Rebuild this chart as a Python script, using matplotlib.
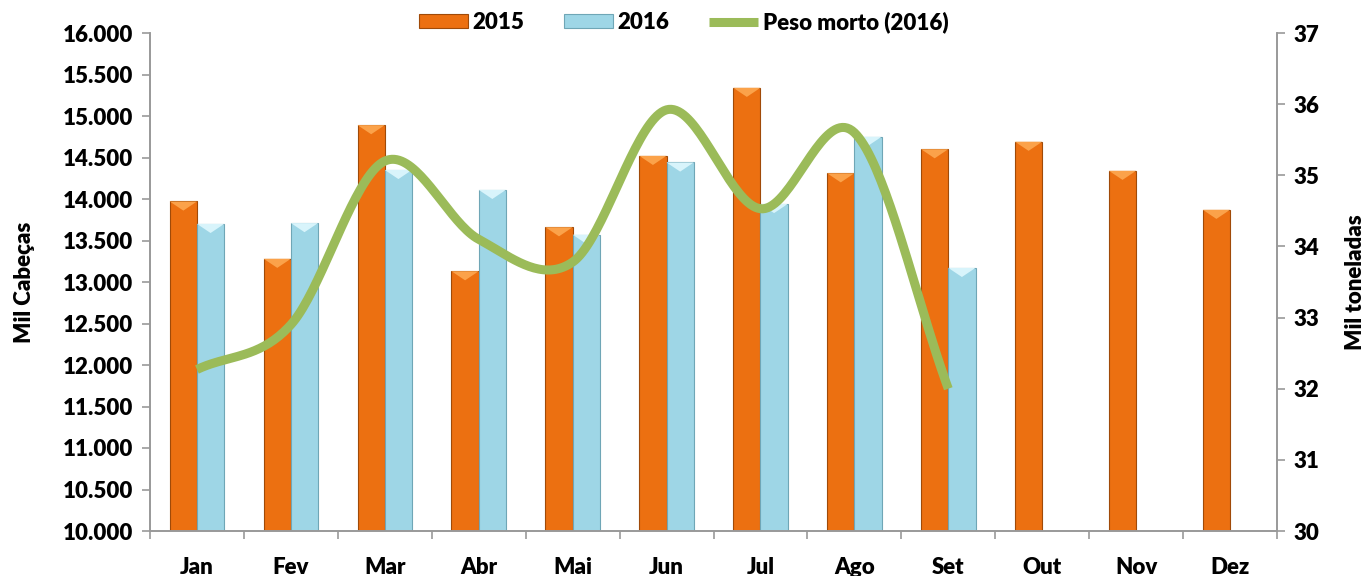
import matplotlib
matplotlib.use('Agg')
import matplotlib.pyplot as plt
import numpy as np

plt.rcParams['font.family'] = ['Lato', 'DejaVu Sans']
plt.rcParams['font.weight'] = 'heavy'

meses = ['Jan', 'Fev', 'Mar', 'Abr', 'Mai', 'Jun', 'Jul', 'Ago', 'Set', 'Out', 'Nov', 'Dez']
abate_2015 = [13970, 13280, 14890, 13130, 13660, 14520, 15340, 14310, 14600, 14690, 14340, 13870]
abate_2016 = [13700, 13710, 14350, 14110, 13570, 14440, 13940, 14750, 13170]
peso_2016 = [32.27, 32.9, 35.2, 34.1, 33.78, 35.92, 34.53, 35.6, 32.0]


def smooth(x, y, n=40):
    # cardinal spline, like excel's "smoothed line"
    x = np.asarray(x, float)
    y = np.asarray(y, float)
    px = np.concatenate([[2*x[0]-x[1]], x, [2*x[-1]-x[-2]]])
    py = np.concatenate([[2*y[0]-y[1]], y, [2*y[-1]-y[-2]]])
    xs, ys = [], []
    t = np.linspace(0, 1, n)
    for i in range(1, len(px)-2):
        p0, p1, p2, p3 = [np.array([px[j], py[j]]) for j in range(i-1, i+3)]
        c1 = p1 + (p2 - p0) / 6
        c2 = p2 - (p3 - p1) / 6
        b = (np.outer((1-t)**3, p1) + np.outer(3*(1-t)**2*t, c1)
             + np.outer(3*(1-t)*t**2, c2) + np.outer(t**3, p2))
        xs.extend(b[:, 0])
        ys.extend(b[:, 1])
    return xs, ys


fig = plt.figure(figsize=(13.67, 5.76), dpi=100)
ax = fig.add_axes([150/1367, 45/576, 1127/1367, 498/576])
ax2 = ax.twinx()

x = np.arange(len(meses))
w = 0.29
laranja = '#EC7011'
azul = '#9ED6E6'
b1 = ax.bar(x[:len(abate_2015)] - w/2, np.array(abate_2015) - 10000, w, bottom=10000,
            color=laranja, edgecolor='#A04A08', linewidth=0.8, label='2015', zorder=2)
b2 = ax.bar(x[:len(abate_2016)] + w/2, np.array(abate_2016) - 10000, w, bottom=10000,
            color=azul, edgecolor='#6FA6B6', linewidth=0.8, label='2016', zorder=2)

# bevel-like tops
for bars, c in [(b1, '#FBA24A'), (b2, '#D8F4FB')]:
    for r in bars:
        x0 = r.get_x()
        top = r.get_y() + r.get_height()
        ax.fill([x0, x0 + w, x0 + w/2], [top, top, top - 110], color=c, zorder=3, lw=0)

sx, sy = smooth(x[:len(peso_2016)], peso_2016)
ax2.plot(sx, sy, color='#9BBB59', lw=6.5, solid_capstyle='butt', label='Peso morto (2016)', zorder=4)

ax.set_xlim(-0.5, 11.5)
ax.set_ylim(10000, 16000)
ax.set_yticks(np.arange(10000, 16001, 500))
ax.set_yticklabels([f'{v:,.0f}'.replace(',', '.') for v in np.arange(10000, 16001, 500)])
ax2.set_ylim(30, 37)
ax2.set_yticks(range(30, 38))

ax.set_xticks(x)
ax.set_xticklabels(meses)
ax.set_xticks(np.arange(-0.5, 12, 1), minor=True)
ax.tick_params(axis='x', which='major', length=0, pad=19, labelsize=16)
ax.tick_params(axis='x', which='minor', length=6, width=1.2, color='#999999', direction='out')
ax.tick_params(axis='y', labelsize=16, length=6, width=1.2, color='#999999', pad=6)
ax2.tick_params(axis='y', labelsize=16, length=6, width=1.2, color='#999999', pad=6)

for a in (ax, ax2):
    a.spines['top'].set_visible(False)
    for s in ('left', 'right', 'bottom'):
        a.spines[s].set_color('#999999')
        a.spines[s].set_linewidth(1.2)

ax.set_ylabel('Mil Cabeças', fontsize=16, fontweight='heavy', labelpad=20)
ax2.set_ylabel('Mil toneladas', fontsize=16, fontweight='heavy', labelpad=18, rotation=90)

h1, l1 = ax.get_legend_handles_labels()
h2, l2 = ax2.get_legend_handles_labels()
fig.legend(h1 + h2, l1 + l2, loc='upper center', bbox_to_anchor=(0.5, 1.015), ncol=3,
           frameon=False, prop={'weight': 'heavy', 'size': 16},
           handlelength=2.2, handleheight=0.6, handletextpad=0.2, columnspacing=1.8)

fig.savefig('out.png', dpi=100)
